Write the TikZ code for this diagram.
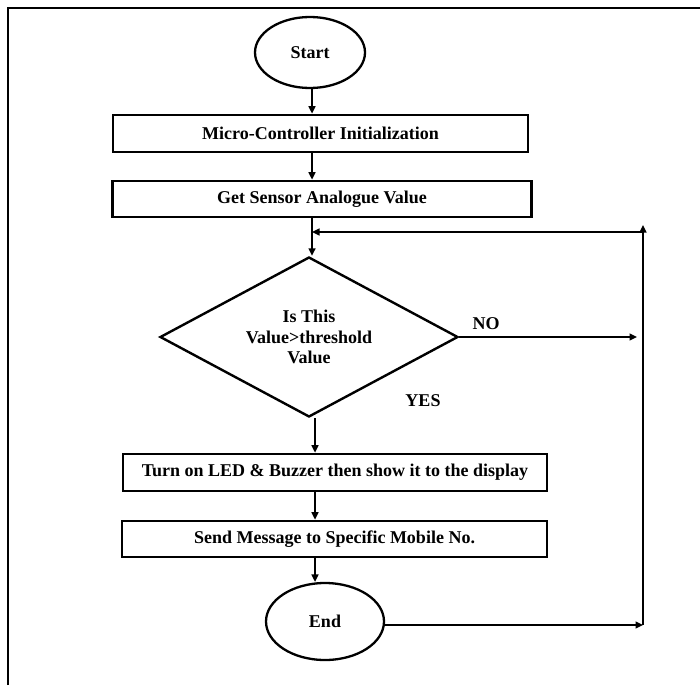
\documentclass[tikz,border=0pt]{standalone}
\usepackage{fontspec}
\setmainfont{Liberation Serif}
\usetikzlibrary{shapes.geometric,arrows.meta}
\begin{document}
\begin{tikzpicture}[x=1pt,y=1pt,
  every node/.style={font=\fontsize{18}{20.5}\selectfont\bfseries, text=black},
  procbox/.style={draw, rectangle, line width=2.8pt, inner sep=0pt},
  termin/.style={draw, ellipse, line width=2.3pt, inner sep=0pt},
  decis/.style={draw, diamond, aspect=1.8625, line width=2.4pt, inner sep=0pt, align=center},
  lbl/.style={inner sep=0pt},
  arr/.style={line width=1.5pt, -{Triangle[length=7.5pt,width=7pt]}},
  conn/.style={line width=1.5pt}
]
\useasboundingbox (0,0) rectangle (700,-685);
% frame
\draw[line width=2.6pt] (8,-685) -- (8,-8) -- (700,-8);

% nodes
\node[termin, minimum width=110, minimum height=71] (start) at (310,-52.5) {Start};
\node[procbox, minimum width=415, minimum height=37] (init) at (320.5,-133.5) {Micro-Controller Initialization};
\node[procbox, minimum width=419, minimum height=36] (sensor) at (322,-199) {Get Sensor Analogue Value};
\node[decis, minimum width=298, minimum height=160] (dec) at (309,-337) {Is This\\Value>threshold\\Value};
\node[procbox, minimum width=424, minimum height=37] (led) at (335,-472.5) {Turn on LED \& Buzzer then show it to the display};
\node[procbox, minimum width=425, minimum height=36] (msg) at (334.5,-539) {Send Message to Specific Mobile No.};
\node[termin, minimum width=118, minimum height=77] (stop) at (325,-621.5) {End};

\node[lbl] (no) at (486,-324) {NO};
\node[lbl] (yes) at (423,-401) {YES};

% helper coordinates
\coordinate (colA) at (312,0);
\coordinate (colB) at (315,0);
\coordinate (merge) at (312,-232);
\coordinate (looptop) at (643,-225);
\coordinate (loopjoin) at (643,-232);
\coordinate (loopbot) at (643,-625);
\coordinate (noend) at (637,0);

% connectors
\draw[arr] (start.south -| colA) -- (init.north -| colA);
\draw[arr] (init.south -| colA) -- (sensor.north -| colA);
\draw[arr] (sensor.south -| colA) -- (dec.north -| colA);
\draw[arr] (dec.south -| colB) -- (led.north -| colB);
\draw[arr] (led.south -| colB) -- (msg.north -| colB);
\draw[arr] (msg.south -| colB) -- (stop.north -| colB);

\draw[arr] (dec.east) -- (dec.east -| noend);
\draw[arr] (stop.east |- loopbot) -- (loopbot);
\draw[arr] (loopbot) -- (looptop);
\draw[arr] (loopjoin) -- (merge);
\end{tikzpicture}
\end{document}
